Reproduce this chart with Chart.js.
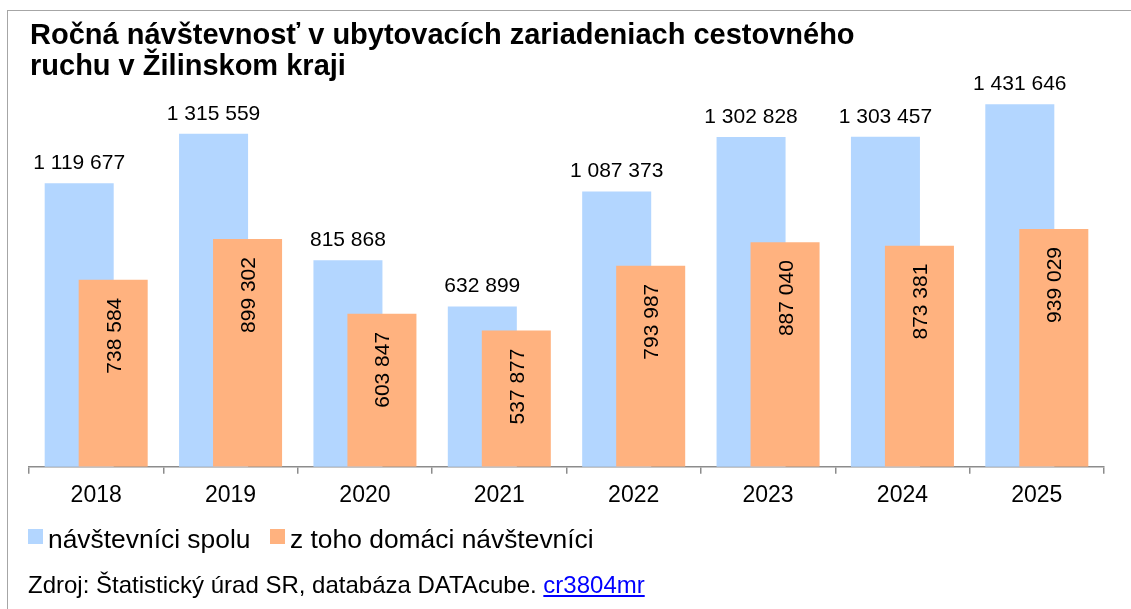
<!DOCTYPE html>
<html>
<head>
<meta charset="utf-8">
<script src="https://cdn.jsdelivr.net/npm/chart.js@4.4.1/dist/chart.umd.min.js"></script>
<style>
  html, body { margin: 0; padding: 0; background: #fff; }
  body { width: 1131px; height: 609px; position: relative; overflow: hidden; font-family: "Liberation Sans", Arial, sans-serif; color: #000; }
  #frame { position: absolute; left: 7px; top: 10px; width: 1300px; height: 800px; border-top: 1px solid #a6a6a6; border-left: 1px solid #a6a6a6; }
  #c { position: absolute; left: 0; top: 0; }
  #title { position: absolute; left: 30px; top: 18.5px; font-weight: bold; font-size: 29px; line-height: 31px; white-space: nowrap; }
  .leg { position: absolute; font-size: 26.4px; line-height: 30px; white-space: nowrap; }
  .sw { position: absolute; width: 15px; height: 15px; }
  #src { position: absolute; left: 28px; top: 571px; font-size: 24px; line-height: 28px; white-space: nowrap; }
  #src a { color: #0000ff; text-decoration: underline; }
</style>
</head>
<body>
<div id="frame"></div>
<canvas id="c" width="1131" height="609"></canvas>
<div id="title">Ročná návštevnosť v ubytovacích zariadeniach cestovného<br>ruchu v Žilinskom kraji</div>
<div class="sw" id="sw0" style="left:28px; top:529px;"></div>
<div class="leg" id="lg0" style="left:48px; top:524px;"></div>
<div class="sw" id="sw1" style="left:270px; top:529px;"></div>
<div class="leg" id="lg1" style="left:290px; top:524px;"></div>
<div id="src">Zdroj: Štatistický úrad SR, databáza DATAcube. <a href="#">cr3804mr</a></div>
<script>
const years = ["2018", "2019", "2020", "2021", "2022", "2023", "2024", "2025"];
const totalVisitors = [1119677, 1315559, 815868, 632899, 1087373, 1302828, 1303457, 1431646];
const domesticVisitors = [738584, 899302, 603847, 537877, 793987, 887040, 873381, 939029];
const seriesNames = ["návštevníci spolu", "z toho domáci návštevníci"];
const colors = ["#b3d6ff", "#ffb27f"];

document.getElementById('sw0').style.background = colors[0];
document.getElementById('sw1').style.background = colors[1];
document.getElementById('lg0').textContent = seriesNames[0];
document.getElementById('lg1').textContent = seriesNames[1];

function fmt(v) {
  return String(v).replace(/\B(?=(\d{3})+(?!\d))/g, ' ');
}

// Draw the first (blue) dataset underneath the second (orange) one.
const drawOrderPlugin = {
  id: 'drawOrder',
  beforeDatasetsDraw(chart) {
    const meta = chart.getDatasetMeta(0);
    if (meta && meta.controller) meta.controller.draw();
  },
  beforeDatasetDraw(chart, args) {
    if (args.index === 0) return false;
  }
};

const labelPlugin = {
  id: 'valueLabels',
  afterDatasetsDraw(chart) {
    const ctx = chart.ctx;
    ctx.save();
    ctx.fillStyle = '#000';
    ctx.font = '21px "Liberation Sans", Arial, sans-serif';
    const m0 = chart.getDatasetMeta(0);
    m0.data.forEach((bar, i) => {
      ctx.textAlign = 'center';
      ctx.textBaseline = 'alphabetic';
      ctx.fillText(fmt(totalVisitors[i]), bar.x, bar.y - 14);
    });
    const m1 = chart.getDatasetMeta(1);
    m1.data.forEach((bar, i) => {
      ctx.save();
      ctx.translate(bar.x + 7.5, bar.y + 18);
      ctx.rotate(-Math.PI / 2);
      ctx.textAlign = 'right';
      ctx.textBaseline = 'alphabetic';
      ctx.fillText(fmt(domesticVisitors[i]), 0, 0);
      ctx.restore();
    });
    ctx.restore();
  }
};

new Chart(document.getElementById('c'), {
  type: 'bar',
  data: {
    labels: years,
    datasets: [
      { label: seriesNames[0], data: totalVisitors, backgroundColor: colors[0], borderWidth: 0,
        categoryPercentage: 0.506, barPercentage: 2.03 },
      { label: seriesNames[1], data: domesticVisitors, backgroundColor: colors[1], borderWidth: 0,
        categoryPercentage: 0.506, barPercentage: 2.03 }
    ]
  },
  options: {
    responsive: false,
    animation: false,
    devicePixelRatio: 1,
    layout: { padding: { left: 29, right: 27, top: 61.7, bottom: 102.3 } },
    plugins: { legend: { display: false }, tooltip: { enabled: false }, title: { display: false } },
    scales: {
      x: {
        offset: true,
        grid: { display: true, drawOnChartArea: false, offset: true, tickLength: 7, color: '#8c8c8c', lineWidth: 1.5 },
        border: { display: true, color: '#8c8c8c', width: 1.5 },
        ticks: { color: '#000', font: { family: '"Liberation Sans", Arial, sans-serif', size: 23 }, padding: 8, maxRotation: 0 },
        afterFit(scale) { scale.height = 40; }
      },
      y: {
        display: false,
        min: 0,
        max: 1600000
      }
    }
  },
  plugins: [drawOrderPlugin, labelPlugin]
});
</script>
</body>
</html>
